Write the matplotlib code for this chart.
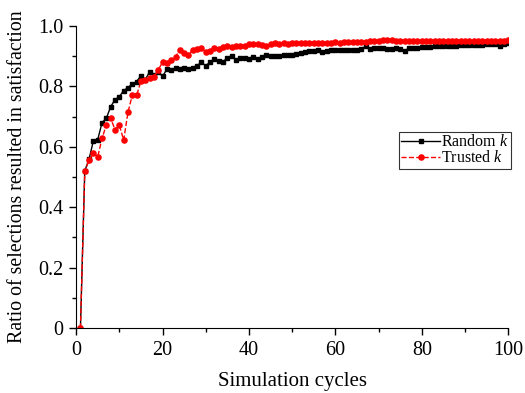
import matplotlib
matplotlib.use("Agg")
import matplotlib.pyplot as plt
from matplotlib.ticker import MultipleLocator

plt.rcParams['font.family'] = ['Liberation Serif', 'DejaVu Serif']
plt.rcParams['mathtext.fontset'] = 'custom'
plt.rcParams['mathtext.it'] = 'Liberation Serif:italic'
plt.rcParams['mathtext.rm'] = 'Liberation Serif'

cycles = list(range(1, 101))

random_k = [
    0.0, 0.52, 0.56, 0.62, 0.624, 0.68, 0.695, 0.733, 0.756, 0.766,
    0.786, 0.796, 0.808, 0.816, 0.835, 0.822, 0.848, 0.837, 0.848, 0.833,
    0.857, 0.853, 0.862, 0.857, 0.86, 0.857, 0.862, 0.869, 0.88, 0.868,
    0.881, 0.89, 0.883, 0.881, 0.895, 0.901, 0.887, 0.894, 0.895, 0.892,
    0.896, 0.89, 0.898, 0.904, 0.900, 0.902, 0.899, 0.903, 0.905, 0.904,
    0.908, 0.912, 0.915, 0.918, 0.916, 0.92, 0.914, 0.918, 0.921, 0.92,
    0.919, 0.921, 0.92, 0.922, 0.921, 0.924, 0.933, 0.925, 0.927, 0.926,
    0.928, 0.925, 0.923, 0.928, 0.924, 0.918, 0.926, 0.928, 0.927, 0.929,
    0.930, 0.931, 0.932, 0.934, 0.933, 0.934, 0.935, 0.934, 0.936, 0.937,
    0.937, 0.936, 0.938, 0.938, 0.941, 0.939, 0.940, 0.932, 0.940, 0.942,
]

trusted_k = [
    0.0, 0.52, 0.555, 0.58, 0.567, 0.628, 0.673, 0.694, 0.657, 0.672,
    0.622, 0.714, 0.771, 0.77, 0.817, 0.822, 0.828, 0.832, 0.854, 0.881,
    0.877, 0.888, 0.897, 0.921, 0.912, 0.904, 0.921, 0.925, 0.927, 0.915,
    0.918, 0.928, 0.925, 0.929, 0.934, 0.931, 0.934, 0.932, 0.935, 0.941,
    0.941, 0.941, 0.938, 0.934, 0.940, 0.942, 0.941, 0.942, 0.941, 0.943,
    0.942, 0.944, 0.943, 0.944, 0.943, 0.945, 0.944, 0.944, 0.945, 0.946,
    0.945, 0.946, 0.947, 0.946, 0.947, 0.948, 0.948, 0.949, 0.950, 0.951,
    0.952, 0.953, 0.952, 0.951, 0.950, 0.951, 0.950, 0.950, 0.951, 0.950,
    0.950, 0.949, 0.951, 0.950, 0.950, 0.951, 0.950, 0.950, 0.951, 0.950,
    0.951, 0.950, 0.951, 0.950, 0.951, 0.950, 0.951, 0.950, 0.951, 0.952,
]

xticks = [0, 20, 40, 60, 80, 100]
yticks = [0, 0.2, 0.4, 0.6, 0.8, 1.0]
ytick_labels = ['0', '0.2', '0.4', '0.6', '0.8', '1.0']

fig = plt.figure(figsize=(5.25, 3.93), dpi=100)
ax = fig.add_axes([0.145, 0.165, 0.823, 0.769])

ax.plot(cycles, random_k, color='black', linestyle='-', linewidth=1.0,
        marker='s', markersize=3.2, label='Random $k$')
ax.plot(cycles, trusted_k, color='red', linestyle='--', linewidth=1.0,
        marker='o', markersize=3.7, label='Trusted $k$')

ax.set_xlim(0, 100)
ax.set_ylim(0, 1.0)
ax.set_xticks(xticks)
ax.set_yticks(yticks)
ax.set_yticklabels(ytick_labels)
ax.xaxis.set_minor_locator(MultipleLocator(10))
ax.yaxis.set_minor_locator(MultipleLocator(0.1))
ax.tick_params(which='major', direction='out', length=5, width=1, labelsize=14.5, pad=4)
ax.tick_params(which='minor', direction='out', length=3, width=1)
ax.spines['top'].set_visible(False)
ax.spines['right'].set_visible(False)

ax.set_xlabel('Simulation cycles', fontsize=15, labelpad=9)
ax.set_ylabel('Ratio of selections resulted in satisfaction', fontsize=14.3, labelpad=8)

leg = ax.legend(loc='upper right', bbox_to_anchor=(1.007, 0.65), borderaxespad=0,
                fontsize=11.5, frameon=True, fancybox=False, edgecolor='black',
                handlelength=2.4, handletextpad=0.1, borderpad=0.15, labelspacing=0.0)
leg.get_frame().set_linewidth(0.8)

fig.savefig('out.png', dpi=100)
